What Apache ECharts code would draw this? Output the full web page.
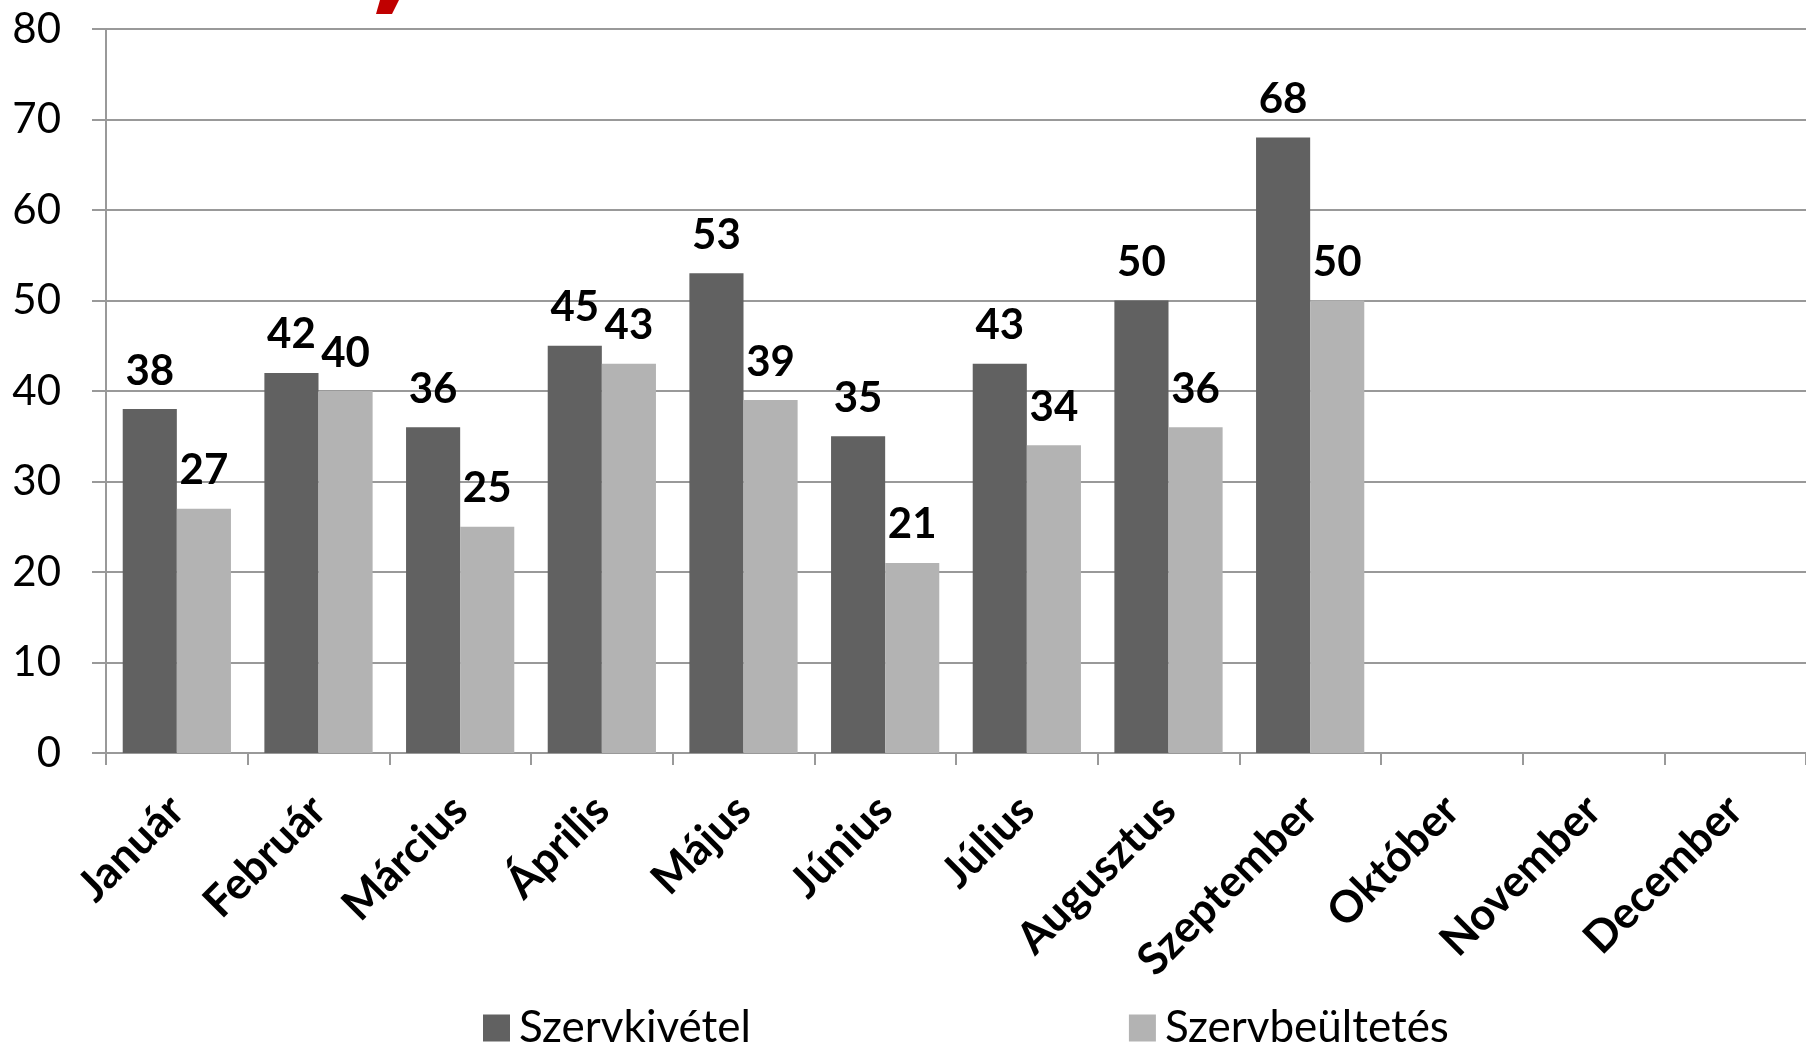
<!DOCTYPE html>
<html>
<head>
<meta charset="utf-8">
<script src="https://cdn.jsdelivr.net/npm/echarts@6/dist/echarts.min.js"></script>
<style>
html,body{margin:0;padding:0;background:#fff;}
#chart{width:1806px;height:1045px;}
</style>
</head>
<body>
<div id="chart"></div>
<script>
var months = ['Január','Február','Március','Április','Május','Június','Július','Augusztus','Szeptember','Október','November','December'];
var szervkivetel = [38,42,36,45,53,35,43,50,68,null,null,null];
var szervbeultetes = [27,40,25,43,39,21,34,36,50,null,null,null];
var seriesNames = ['Szervkivétel','Szervbeültetés'];
var yTicks = {min:0, max:80, interval:10};

var FONT = 'Lato';
var chart = echarts.init(document.getElementById('chart'));
var labelStyle = {
  show: true, position: 'top', distance: 17,
  fontFamily: FONT, fontWeight: 'bold', fontSize: 42, color: '#000'
};
chart.setOption({
  animation: false,
  backgroundColor: '#fff',
  graphic: [{
    type: 'polygon',
    shape: {points: [[380,0],[399,0],[392,14],[376,14]]},
    style: {fill: '#c00000'}
  }],
  legend: {
    bottom: -10, left: 478,
    itemWidth: 27, itemHeight: 27, itemGap: 378,
    icon: 'rect',
    textStyle: {fontFamily: FONT, fontSize: 44, color: '#000', padding: [0,0,0,4]},
    data: seriesNames
  },
  grid: {left: 106, right: 0, top: 29, bottom: 292, containLabel: false},
  xAxis: {
    type: 'category',
    data: months,
    axisLine: {lineStyle: {color: '#999', width: 2}},
    axisTick: {show: true, length: 12, lineStyle: {color: '#999', width: 2}},
    axisLabel: {rotate: 45, margin: 50, interval: 0, fontFamily: FONT, fontWeight: 'bold', fontSize: 44, color: '#000'}
  },
  yAxis: {
    type: 'value', min: yTicks.min, max: yTicks.max, interval: yTicks.interval,
    axisLine: {show: true, lineStyle: {color: '#999', width: 2}},
    axisTick: {show: true, length: 14, lineStyle: {color: '#999', width: 2}},
    splitLine: {lineStyle: {color: '#999', width: 2}},
    axisLabel: {margin: 45, fontFamily: FONT, fontSize: 42, color: '#000'}
  },
  series: [
    {name: seriesNames[0], type: 'bar', data: szervkivetel, barGap: '0%', barCategoryGap: '23.6%',
     itemStyle: {color: '#616161'}, label: labelStyle},
    {name: seriesNames[1], type: 'bar', data: szervbeultetes, barGap: '0%', barCategoryGap: '23.6%',
     itemStyle: {color: '#b3b3b3'}, label: labelStyle}
  ]
});
</script>
</body>
</html>
